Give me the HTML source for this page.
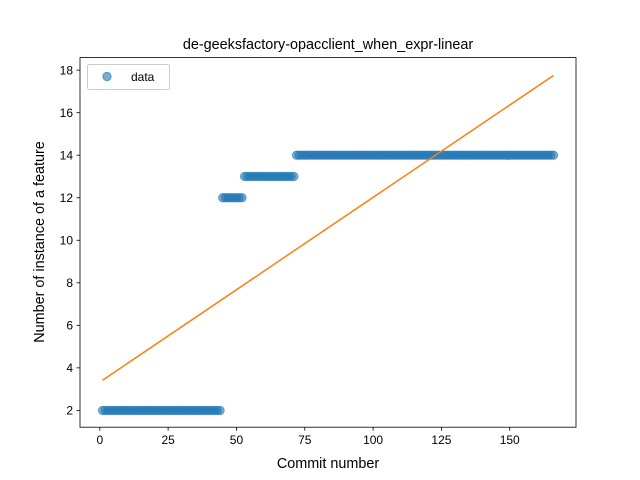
<!DOCTYPE html>
<html><head><meta charset="utf-8"><style>
body{margin:0;background:#fff;}
svg{display:block;font-family:"Liberation Sans","DejaVu Sans",sans-serif;}
</style></head><body>
<svg id="chart" width="640" height="480">
<rect width="640" height="480" fill="#fff"/>
<text x="328" y="49" font-size="14.4" text-anchor="middle">de-geeksfactory-opacclient_when_expr-linear</text>
<g id="plot"></g>
<rect x="80" y="57.6" width="496" height="369.6" fill="none" stroke="#000" stroke-width="0.8"/>
<g id="xt"></g><g id="yt"></g>
<text x="328" y="468" font-size="14.4" text-anchor="middle">Commit number</text>
<text transform="translate(44,242) rotate(-90)" font-size="14.4" text-anchor="middle">Number of instance of a feature</text>
<g>
<rect x="87.5" y="64.5" width="82" height="25" rx="2" fill="#fff" fill-opacity="0.8" stroke="#ccc"/>
<circle cx="107" cy="76.5" r="4.2" fill="#1f77b4" fill-opacity="0.6" stroke="#1f77b4" stroke-opacity="0.6"/>
<text x="131" y="81" font-size="12">data</text>
</g>
</svg>
<script>
const levels=[2,12,13,14];
const counts=[44,8,19,95];
const fitX=[1,166];
const fitY=[3.42,17.75];
const xTicks=[0,25,50,75,100,125,150];
const yTicks=[2,4,6,8,10,12,14,16,18];
const xmin=-7.25,xmax=174.25,ymin=1.21,ymax=18.59;
const L=80,R=576,T=57.6,B=427.2;
const sx=v=>L+(v-xmin)/(xmax-xmin)*(R-L);
const sy=v=>B-(v-ymin)/(ymax-ymin)*(B-T);
const NS="http://www.w3.org/2000/svg";
const plot=document.getElementById('plot');
function mk(t,a,p){const e=document.createElementNS(NS,t);for(const k in a)e.setAttribute(k,a[k]);p.appendChild(e);return e;}
let xi=1;
levels.forEach((lv,i)=>{for(let j=0;j<counts[i];j++){
 const c=mk('circle',{cx:sx(xi),cy:sy(lv),r:4.2,fill:'#1f77b4','fill-opacity':0.6,stroke:'#1f77b4','stroke-opacity':0.6},plot);
 
 
 xi++;}});
const ln=mk('line',{x1:sx(fitX[0]),y1:sy(fitY[0]),x2:sx(fitX[1]),y2:sy(fitY[1]),stroke:'#ff7f0e','stroke-width':1.5},plot);


const xt=document.getElementById('xt'),yt=document.getElementById('yt');
xTicks.forEach(v=>{const x=sx(v);
 mk('line',{x1:x,x2:x,y1:B,y2:B+3.5,stroke:'#000','stroke-width':0.8},xt);
 const t=mk('text',{x:x,y:B+17,'font-size':12,'text-anchor':'middle'},xt);t.textContent=v;
 
 });
yTicks.forEach(v=>{const y=sy(v);
 mk('line',{x1:L-3.5,x2:L,y1:y,y2:y,stroke:'#000','stroke-width':0.8},yt);
 const t=mk('text',{x:L-7,y:y+4.3,'font-size':12,'text-anchor':'end'},yt);t.textContent=v;
 
 });
</script>
</body></html>
